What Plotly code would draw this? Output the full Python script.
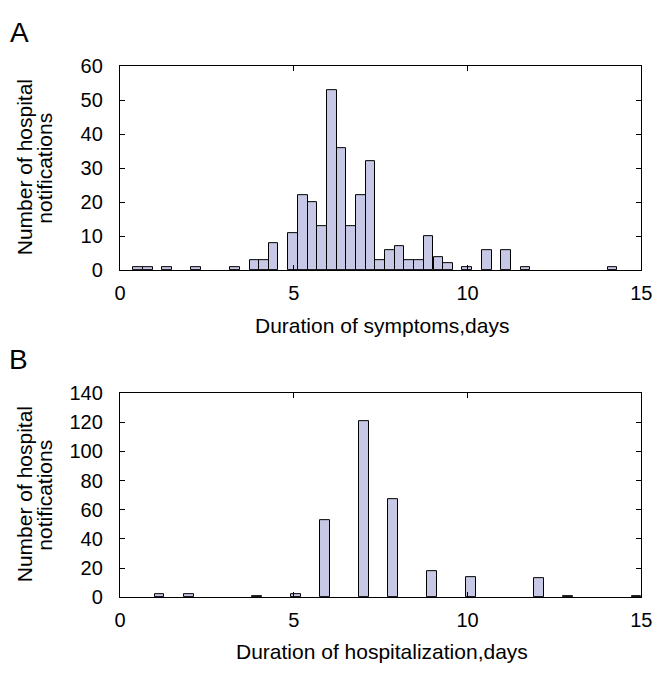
import plotly.graph_objects as go

# ---- Data ----
# Panel A: histogram of duration of symptoms (bin centres, days) and counts
symptom_days = [0.52, 0.80, 1.36, 2.19, 3.31, 3.87, 4.14, 4.42, 4.98, 5.26,
                5.54, 5.82, 6.09, 6.37, 6.65, 6.93, 7.21, 7.49, 7.77, 8.04,
                8.32, 8.60, 8.88, 9.16, 9.44, 9.99, 10.55, 11.11, 11.67, 14.17]
symptom_counts = [1, 1, 1, 1, 1, 3, 3, 8, 11, 22,
                  20, 13, 53, 36, 13, 22, 32, 3, 6, 7,
                  3, 3, 10, 4, 2, 1, 6, 6, 1, 1]
symptom_bin_width = 0.2786

# Panel B: histogram of duration of hospitalization (bin centres, days) and counts
hosp_days = [1.14, 1.98, 3.94, 5.06, 5.90, 7.02, 7.86, 8.98, 10.10, 12.06, 12.90, 14.86]
hosp_counts = [2, 2, 1, 2, 53, 121, 67, 18, 14, 13, 1, 1]
hosp_bin_width = 0.28

x_ticks = [0, 5, 10, 15]
yA_ticks = [0, 10, 20, 30, 40, 50, 60]
yB_ticks = [0, 20, 40, 60, 80, 100, 120, 140]

# ---- Style ----
W, H = 666, 676
FONT = "Liberation Sans, Arial, sans-serif"
BAR_FILL = "rgb(198,200,230)"
TICK_SIZE = 20
TITLE_SIZE = 21

def px_x(p):
    return p / W

def px_y(p):
    return 1 - p / H

fig = go.Figure()
fig.add_trace(go.Bar(x=symptom_days, y=symptom_counts, width=symptom_bin_width,
                     marker=dict(color=BAR_FILL, line=dict(color="black", width=1)),
                     xaxis="x", yaxis="y", showlegend=False))
fig.add_trace(go.Bar(x=hosp_days, y=hosp_counts, width=hosp_bin_width,
                     marker=dict(color=BAR_FILL, line=dict(color="black", width=1)),
                     xaxis="x2", yaxis="y2", showlegend=False))

axis_common = dict(showline=True, linecolor="black", linewidth=1.3, mirror="ticks",
                   ticks="inside", ticklen=5, tickwidth=1, tickcolor="black",
                   showgrid=False, zeroline=False,
                   tickfont=dict(family=FONT, size=TICK_SIZE, color="black"))

fig.update_layout(
    width=W, height=H,
    margin=dict(l=0, r=0, t=0, b=0),
    paper_bgcolor="white", plot_bgcolor="white",
    bargap=0,
    xaxis=dict(domain=[px_x(117), px_x(652)], range=[0, 15], tickvals=x_ticks,
               anchor="y", ticklabelstandoff=5, **axis_common),
    yaxis=dict(domain=[px_y(268), px_y(57)], range=[0, 60], tickvals=yA_ticks,
               anchor="x", ticklabelstandoff=12, **axis_common),
    xaxis2=dict(domain=[px_x(117), px_x(652)], range=[0, 15], tickvals=x_ticks,
                anchor="y2", ticklabelstandoff=5, **axis_common),
    yaxis2=dict(domain=[px_y(606), px_y(395)], range=[0, 140], tickvals=yB_ticks,
                anchor="x2", ticklabelstandoff=12, **axis_common),
)

ann_font = dict(family=FONT, size=TITLE_SIZE, color="black")
annotations = [
    dict(text="A", x=px_x(2), y=px_y(22), xanchor="left", yanchor="middle",
         font=dict(family=FONT, size=28, color="black")),
    dict(text="B", x=px_x(1), y=px_y(360), xanchor="left", yanchor="middle",
         font=dict(family=FONT, size=28, color="black")),
    dict(text="Duration of symptoms,days", x=px_x(386), y=px_y(325),
         xanchor="center", yanchor="middle", font=ann_font),
    dict(text="Duration of hospitalization,days", x=px_x(386), y=px_y(662),
         xanchor="center", yanchor="middle", font=ann_font),
]
for cy in (162, 500):
    annotations.append(dict(text="Number of hospital", x=px_x(19), y=px_y(cy),
                            xanchor="center", yanchor="middle", textangle=-90,
                            font=dict(family=FONT, size=21, color="black")))
    annotations.append(dict(text="notifications", x=px_x(40), y=px_y(cy),
                            xanchor="center", yanchor="middle", textangle=-90,
                            font=dict(family=FONT, size=21, color="black")))
for a in annotations:
    a.update(xref="paper", yref="paper", showarrow=False)
fig.update_layout(annotations=annotations)

fig.write_html("out.html")
